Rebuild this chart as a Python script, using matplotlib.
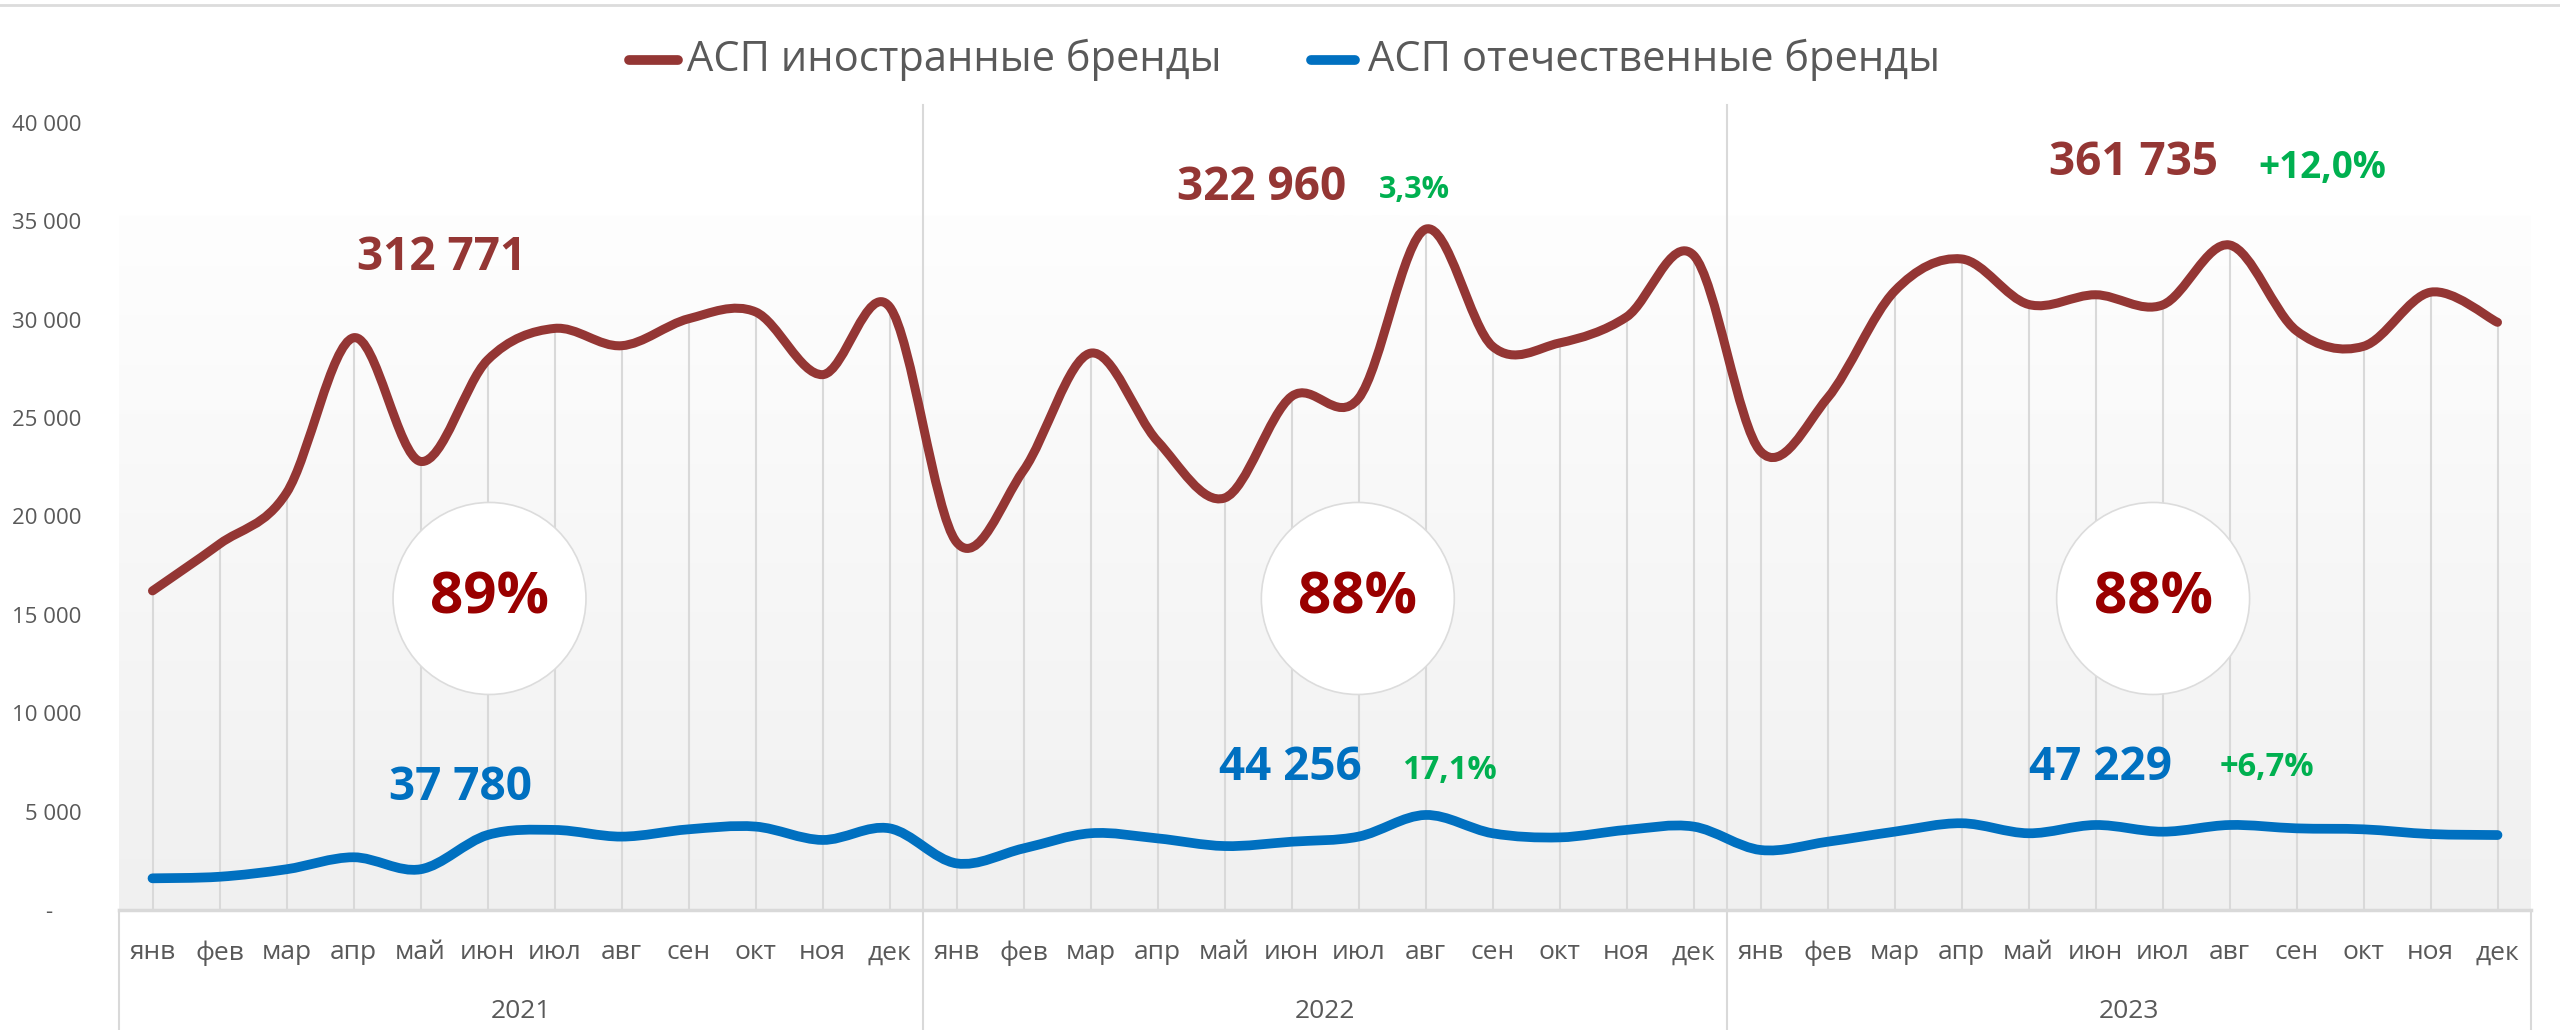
import numpy as np
import matplotlib
matplotlib.use("Agg")
import matplotlib.pyplot as plt
from matplotlib.path import Path
from matplotlib.patches import PathPatch, Ellipse
from matplotlib.lines import Line2D
from matplotlib.colors import LinearSegmentedColormap

plt.rcParams['font.family'] = ['Open Sans', 'DejaVu Sans']

# data
months = ['янв', 'фев', 'мар', 'апр', 'май', 'июн', 'июл', 'авг', 'сен', 'окт', 'ноя', 'дек']
years = ['2021', '2022', '2023']

foreign = [16220, 18600, 21200, 29085, 22800, 27950, 29560, 28680, 30050, 30400, 27210, 30660,
           18700, 22340, 28300, 23830, 20940, 26100, 26000, 34600, 28650, 28820, 30140, 33280,
           23310, 26020, 31450, 33090, 30780, 31270, 30750, 33800, 29440, 28650, 31400, 29870]
domestic = [1610, 1690, 2070, 2680, 2070, 3810, 4070, 3730, 4100, 4240, 3560, 4150,
            2370, 3130, 3900, 3640, 3250, 3470, 3730, 4830, 3900, 3690, 4070, 4240,
            3050, 3470, 3980, 4410, 3900, 4320, 3980, 4320, 4150, 4100, 3860, 3810]

foreign_totals = ['312 771', '322 960', '361 735']
foreign_growth = ['', '3,3%', '+12,0%']
domestic_totals = ['37 780', '44 256', '47 229']
domestic_growth = ['', '17,1%', '+6,7%']
share_labels = ['89%', '88%', '88%']

yticks = [0, 5000, 10000, 15000, 20000, 25000, 30000, 35000, 40000]
ytick_labels = ['-     ', '5 000', '10 000', '15 000', '20 000', '25 000', '30 000', '35 000', '40 000']

RED = '#943634'
BLUE = '#0070C0'
GREEN = '#00B050'
DARKRED = '#990000'
GREY_TXT = '#595959'
GRID = '#d9d9d9'


def smooth_path(x, y):
    # excel-like smoothed line: bezier segments with catmull-rom control points
    pts = np.column_stack([x, y]).astype(float)
    n = len(pts)
    verts, codes = [pts[0]], [Path.MOVETO]
    for i in range(n - 1):
        p0 = pts[i - 1] if i > 0 else pts[i]
        p1, p2 = pts[i], pts[i + 1]
        p3 = pts[i + 2] if i + 2 < n else pts[i + 1]
        verts += [p1 + (p2 - p0) / 6., p2 - (p3 - p1) / 6., p2]
        codes += [Path.CURVE4] * 3
    return Path(verts, codes)


W, H = 2560, 1030
fig = plt.figure(figsize=(25.6, 10.3), dpi=100)
ax = fig.add_axes([119 / W, 1 - 910 / H, (2531 - 119) / W, (910 - 123) / H])

x = np.arange(len(foreign))

# gradient background
cmap = LinearSegmentedColormap.from_list('bg', ['#f0f0f0', '#fefefe'])
ax.imshow(np.linspace(0, 1, 256).reshape(-1, 1), cmap=cmap, origin='lower',
          extent=(-0.5, 35.5, 0, 35300), aspect='auto', zorder=0)

# drop lines
ax.vlines(x, 0, foreign, color=GRID, lw=1.5, zorder=1)

# year separators + category box
for b in [11.5, 23.5]:
    ax.axvline(b, ymin=-0.1525, ymax=1.023, color=GRID, lw=1.5, clip_on=False, zorder=1)
for b in [-0.5, 35.5]:
    ax.axvline(b, ymin=-0.1525, ymax=0, color=GRID, lw=1.5, clip_on=False, zorder=1)
ax.axhline(0, color=GRID, lw=2.5, zorder=2, clip_on=False)

# circles with share
circle_x = [5.03, 17.99, 29.86]
for cx, lab in zip(circle_x, share_labels):
    ax.add_patch(Ellipse((cx, 15834), 2.88, 9760, facecolor='white',
                         edgecolor='#dcdcdc', lw=1.2, zorder=3))
    ax.text(cx, 15834, lab, ha='center', va='center', fontsize=42,
            fontweight='bold', color=DARKRED, zorder=4)

# lines
ax.add_patch(PathPatch(smooth_path(x, foreign), facecolor='none', edgecolor=RED,
                       lw=6.5, capstyle='round', joinstyle='round', zorder=5))
ax.add_patch(PathPatch(smooth_path(x, domestic), facecolor='none', edgecolor=BLUE,
                       lw=7, capstyle='round', joinstyle='round', zorder=5))

# totals
red_pos = [(4.31, 33140), (16.55, 36700), (29.56, 37970)]
red_g_pos = [None, (18.84, 36600), (32.39, 37720)]
red_g_size = [0, 22, 26.5]
blue_pos = [(4.59, 6250), (16.98, 7220), (29.07, 7220)]
blue_g_pos = [None, (19.35, 7070), (31.56, 7220)]
for k in range(3):
    ax.text(*red_pos[k], foreign_totals[k], ha='center', va='center', fontsize=33,
            fontweight='bold', color=RED, zorder=6)
    ax.text(*blue_pos[k], domestic_totals[k], ha='center', va='center', fontsize=33,
            fontweight='bold', color=BLUE, zorder=6)
    if foreign_growth[k]:
        ax.text(*red_g_pos[k], foreign_growth[k], ha='center', va='center',
                fontsize=red_g_size[k], fontweight='bold', color=GREEN, zorder=6)
    if domestic_growth[k]:
        ax.text(*blue_g_pos[k], domestic_growth[k], ha='center', va='center', fontsize=23.5,
                fontweight='bold', color=GREEN, zorder=6)

# axes
ax.set_xlim(-0.5, 35.5)
ax.set_ylim(0, 40000)
for s in ax.spines.values():
    s.set_visible(False)
ax.set_xticks([])
ax.set_yticks(yticks)
ax.set_yticklabels(ytick_labels, fontsize=16, color=GREY_TXT)
ax.tick_params(axis='y', length=0, pad=27)

trans = ax.get_xaxis_transform()
for i in x:
    ax.text(i, -0.0546, months[i % 12], transform=trans, ha='center', va='center',
            fontsize=19, color=GREY_TXT)
for k, yr in enumerate(years):
    ax.text(12 * k + 5.5, -0.1296, yr, transform=trans, ha='center', va='center',
            fontsize=19, color=GREY_TXT)

# legend (manual)
fig.add_artist(Line2D([629 / W, 678 / W], [1 - 60 / H] * 2, color=RED, lw=7,
                      solid_capstyle='round'))
fig.text(687 / W, 1 - 60 / H, 'АСП иностранные бренды', ha='left', va='center',
         fontsize=30, color=GREY_TXT)
fig.add_artist(Line2D([1311 / W, 1355 / W], [1 - 60 / H] * 2, color=BLUE, lw=7,
                      solid_capstyle='round'))
fig.text(1368 / W, 1 - 60 / H, 'АСП отечественные бренды', ha='left', va='center',
         fontsize=30, color=GREY_TXT)

# chart border at top
fig.add_artist(Line2D([0, 1], [1 - 5 / H] * 2, color='#dcdcdc', lw=2))

fig.savefig('out.png', dpi=100, facecolor='white')
